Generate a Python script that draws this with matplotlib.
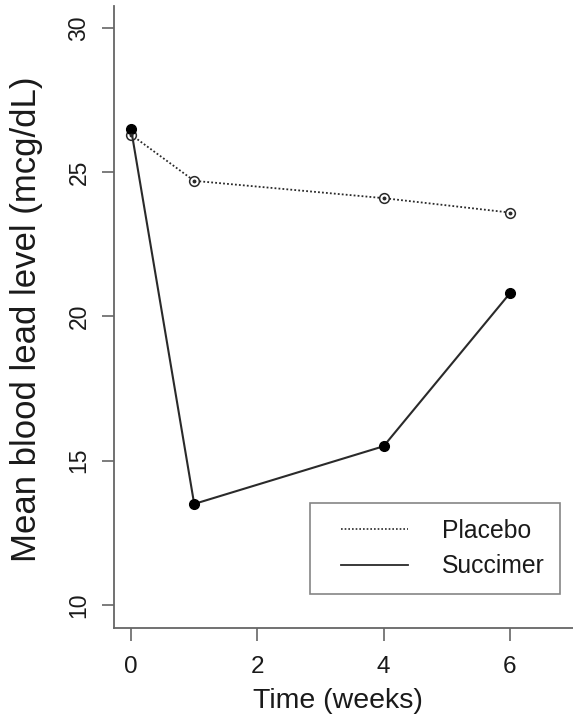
import matplotlib
matplotlib.use("Agg")
from matplotlib import pyplot as plt
from matplotlib.lines import Line2D
from matplotlib.legend_handler import HandlerLine2D
import numpy as np

plt.rcParams['font.family'] = ['Liberation Sans', 'DejaVu Sans']

weeks = [0, 1, 4, 6]
placebo = [26.3, 24.7, 24.1, 23.6]
succimer = [26.5, 13.5, 15.5, 20.8]
y_ticks = [10, 15, 20, 25, 30]
x_ticks = [0, 2, 4, 6]


class PaddedLine(HandlerLine2D):
    # legend line sample starts a bit in from the frame, like R's legend()
    def get_xdata(self, legend, xdescent, ydescent, width, height, fontsize):
        lead = 0.65 * fontsize
        xdata = np.array([-xdescent + lead, -xdescent + width])
        return xdata, xdata


fig = plt.figure(figsize=(5.73, 7.2), dpi=100)
ax = fig.add_axes([114 / 573, 92 / 720, 459 / 573, 622 / 720])

line_col = '#2a2a2a'
axis_col = '#666666'

# placebo: dotted line, open circle with centre dot
ax.plot(weeks, placebo, linestyle=(0, (1, 1.2)), color=line_col, linewidth=1.3, zorder=2)
ax.plot(weeks, placebo, linestyle='none', marker='o', markersize=7,
        markerfacecolor='white', markeredgecolor=line_col, markeredgewidth=1.1, zorder=3)
ax.plot(weeks, placebo, linestyle='none', marker='o', markersize=1.8,
        color=line_col, zorder=4)

# succimer: solid line, filled circles
ax.plot(weeks, succimer, linestyle='-', color=line_col, linewidth=1.5,
        marker='o', markersize=7, markerfacecolor='black', markeredgecolor='black', zorder=3)

ax.set_xlim(-0.27, 7.0)
ax.set_ylim(9.2, 30.76)
ax.set_xticks(x_ticks)
ax.set_yticks(y_ticks)

for side in ['top', 'right']:
    ax.spines[side].set_visible(False)
for side in ['left', 'bottom']:
    ax.spines[side].set_color(axis_col)
    ax.spines[side].set_linewidth(1.3)

ax.tick_params(axis='both', direction='out', length=9, width=1.2, color=axis_col,
               labelcolor='#1a1a1a')
ax.tick_params(axis='x', pad=11, labelsize=17.5)
ax.tick_params(axis='y', pad=8, labelsize=16.5)
for lab in ax.get_yticklabels():
    lab.set_rotation(90)
    lab.set_va('center')

ax.set_xlabel('Time (weeks)', fontsize=20.5, color='#1a1a1a')
ax.xaxis.set_label_coords(0.488, -0.117)
ax.xaxis.label.set_va('center')
ax.set_ylabel('Mean blood lead level (mcg/dL)', fontsize=25, color='#1a1a1a')
ax.yaxis.set_label_coords(-0.19, 0.497)
ax.yaxis.label.set_va('center')

handles = [Line2D([], [], linestyle=(0, (1, 1.2)), color=line_col, linewidth=1.2),
           Line2D([], [], linestyle='-', color=line_col, linewidth=1.3)]
leg = ax.legend(handles, ['Placebo', 'Succimer'], loc='lower right',
                bbox_to_anchor=(0.972, 0.055), borderaxespad=0, fontsize=17.8,
                fancybox=False, handlelength=3.36, handletextpad=1.36,
                borderpad=0.62, labelspacing=0.48,
                handler_map={Line2D: PaddedLine()})
leg.get_frame().set_edgecolor(axis_col)
leg.get_frame().set_linewidth(1.2)
for t in leg.get_texts():
    t.set_color('#1a1a1a')

fig.savefig('out.png', dpi=100)
